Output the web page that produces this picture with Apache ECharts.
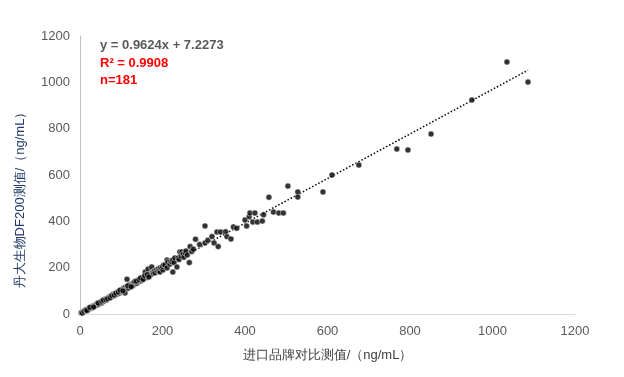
<!DOCTYPE html>
<html>
<head>
<meta charset="utf-8">
<script src="https://cdn.jsdelivr.net/npm/echarts@6/dist/echarts.min.js"></script>
<style>html,body{margin:0;padding:0;background:#fff}#c{width:624px;height:377px}</style>
</head>
<body>
<div id="c"></div>
<script>
// Imported-brand reference value (x) vs DF200 value (y), ng/mL
var xValues = [5,8,12,15,18,20,22,25,28,30,32,35,38,40,42,45,48,50,52,55,58,60,62,65,68,70,72,75,78,80,82,85,88,90,92,95,98,100,
  102,105,108,109,110,112,114,115,118,120,122,125,128,130,132,135,138,140,142,145,148,150,152,155,158,160,162,165,165,168,170,172,174,175,177,178,180,182,185,188,190,192,194,195,198,201,200,
  203,206,211,211,213,218,220,223,225,225,228,230,235,238,240,242,245,247,250,252,255,257,260,
  265,267,271,275,280,290,303,303,310,320,325,332,335,341,353,356,366,372,380,400,404,410,412,419,424,430,442,445,458,469,482,493,504,
  528,528,589,611,676,768,795,851,950,1035,1086,
  3,6,10,14,17,24,33,44,53,57,63,67,73,77,83,87,93,97,104,116,124,133,137,143,147,153,157,163,167];
var yValues = [8,10,14,13,20,18,25,24,30,27,35,33,40,38,45,42,50,52,48,58,55,62,65,60,70,68,75,72,80,85,78,88,84,92,96,90,100,97,
  105,110,100,91,115,108,150,118,112,125,120,128,122,135,130,138,133,145,140,150,143,155,148,160,181,163,158,194,168,165,175,170,203,180,181,176,185,178,190,186,195,188,181,200,196,190,205,
  212,211,199,233,224,215,228,224,233,181,222,242,203,242,235,268,250,268,259,245,263,272,255,
  222,291,270,280,323,300,380,307,318,334,307,354,291,354,355,334,324,376,370,406,380,420,436,397,436,397,401,428,504,440,436,436,552,
  527,505,527,600,643,712,708,777,924,1088,1001,
  5,4,12,17,15,28,30,47,55,60,62,66,70,79,82,90,95,103,100,122,118,140,142,148,155,150,165,170,160];
var slope = 0.9624, intercept = 7.2273;
var eqText = 'y = 0.9624x + 7.2273';
var r2Text = 'R² = 0.9908';
var nText = 'n=181';
var xName = '进口品牌对比测值/（ng/mL）';
var yName = '丹大生物DF200测值/（ng/mL）';

var pts = xValues.map(function(x,i){return [x, yValues[i]];});
var xmin = Math.min.apply(null,xValues), xmax = Math.max.apply(null,xValues);
var trend = [[xmin, slope*xmin+intercept],[xmax, slope*xmax+intercept]];

var chart = echarts.init(document.getElementById('c'));
var font = '"Liberation Sans", Arial, sans-serif';
var fmt = function(v){return String(v);};
chart.setOption({
  animation:false,
  grid:{left:80,right:49,top:36,bottom:63},
  xAxis:{type:'value',min:0,max:1200,interval:200,
    name:xName,nameLocation:'middle',nameGap:35,
    nameTextStyle:{color:'#404040',fontSize:13,fontFamily:font},
    axisLine:{show:true,lineStyle:{color:'#d9d9d9'}},axisTick:{show:false},
    splitLine:{show:false},
    axisLabel:{color:'#595959',fontSize:13,fontFamily:font,margin:11,formatter:fmt}},
  yAxis:{type:'value',min:0,max:1200,interval:200,
    axisLine:{show:true,lineStyle:{color:'#bfbfbf'}},axisTick:{show:false},
    splitLine:{show:false},
    axisLabel:{color:'#595959',fontSize:13,fontFamily:font,margin:10,formatter:fmt}},
  series:[
    {type:'scatter',data:pts,symbolSize:6,itemStyle:{color:'#000',borderColor:'#fff',borderWidth:0.6},z:3},
    {type:'line',data:trend,symbol:'none',lineStyle:{color:'#000',width:1.5,type:[1.5,2]},z:2}
  ],
  graphic:[
    {type:'text',x:20,y:197,rotation:Math.PI/2,
      style:{text:yName,fill:'#1f3864',font:'13px '+font,align:'center',verticalAlign:'middle'}},
    {type:'text',left:100,top:39,style:{text:eqText,fill:'#595959',font:'bold 13px '+font}},
    {type:'text',left:100,top:57,style:{text:r2Text,fill:'#ff0000',font:'bold 13px '+font}},
    {type:'text',left:100,top:74,style:{text:nText,fill:'#ff0000',font:'bold 13px '+font}}
  ]
});
</script>
</body>
</html>
